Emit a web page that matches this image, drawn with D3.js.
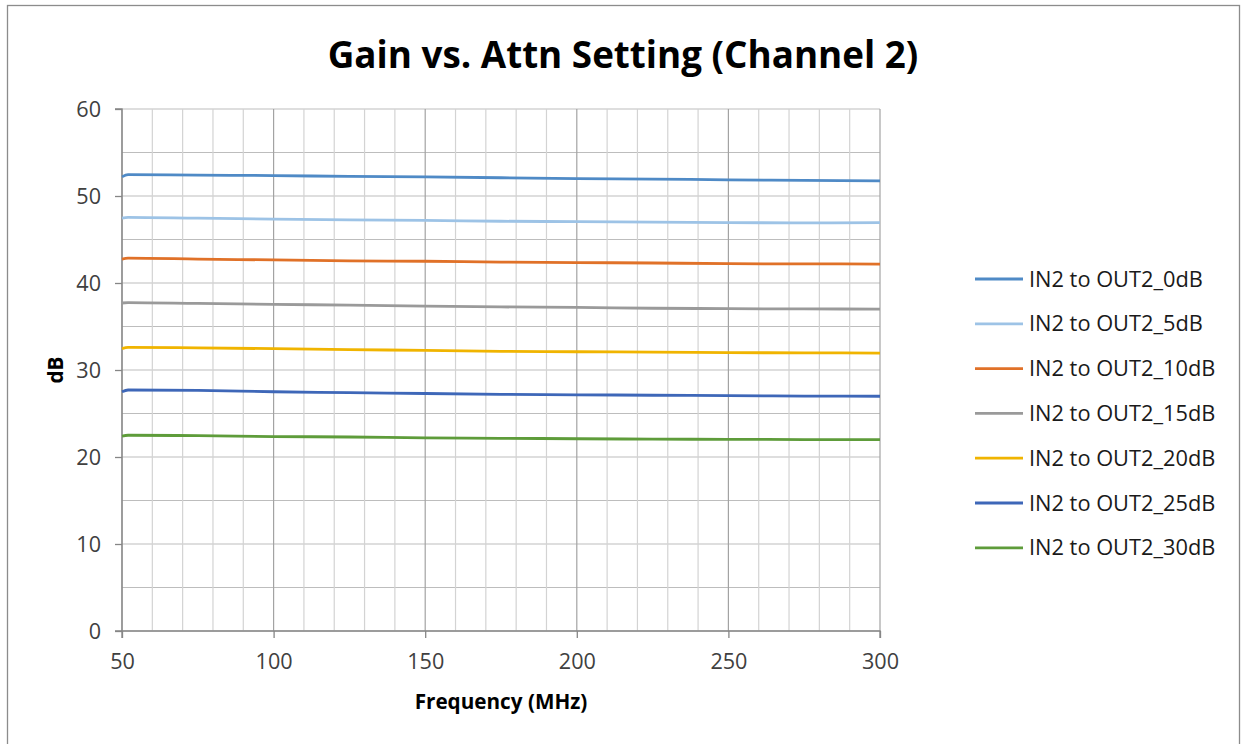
<!DOCTYPE html>
<html><head><meta charset="utf-8">
<script src="https://cdn.jsdelivr.net/npm/d3@7"></script>
<style>
html,body{margin:0;padding:0;background:#fff;}
svg{display:block;}
text{font-family:"Open Sans","Noto Sans",sans-serif;}
</style></head>
<body>
<svg id="chart" width="1246" height="744"></svg>
<script>
const title = "Gain vs. Attn Setting (Channel 2)";
const xTitle = "Frequency (MHz)";
const yTitle = "dB";
const freqs = [50, 52, 75, 100, 125, 150, 175, 200, 225, 250, 275, 300];
const seriesNames = ["IN2 to OUT2_0dB","IN2 to OUT2_5dB","IN2 to OUT2_10dB","IN2 to OUT2_15dB","IN2 to OUT2_20dB","IN2 to OUT2_25dB","IN2 to OUT2_30dB"];
const s0dB  = [52.2, 52.45, 52.4, 52.35, 52.25, 52.2, 52.1, 52.0, 51.95, 51.85, 51.8, 51.75];
const s5dB  = [47.45, 47.55, 47.45, 47.35, 47.25, 47.2, 47.1, 47.05, 47.0, 46.95, 46.9, 46.93];
const s10dB = [42.75, 42.85, 42.75, 42.65, 42.55, 42.5, 42.4, 42.35, 42.3, 42.22, 42.2, 42.18];
const s15dB = [37.7, 37.75, 37.65, 37.55, 37.45, 37.35, 37.25, 37.2, 37.1, 37.05, 37.02, 37.0];
const s20dB = [32.45, 32.6, 32.55, 32.45, 32.35, 32.25, 32.15, 32.1, 32.05, 32.0, 31.97, 31.95];
const s25dB = [27.5, 27.7, 27.65, 27.5, 27.4, 27.3, 27.2, 27.15, 27.1, 27.05, 27.0, 26.98];
const s30dB = [22.4, 22.5, 22.45, 22.35, 22.3, 22.2, 22.15, 22.1, 22.05, 22.03, 22.0, 21.99];
const allSeries = [s0dB, s5dB, s10dB, s15dB, s20dB, s25dB, s30dB];
const colors = ["#4f8ac6", "#9dc3e6", "#e07128", "#9a9a9a", "#f0b400", "#3e67b8", "#5e9c3a"];
const xTicks = [50, 100, 150, 200, 250, 300];
const yTicks = [0, 10, 20, 30, 40, 50, 60];
const xMinor = d3.range(50, 301, 10);
const yMinor = d3.range(0, 61, 5);

const svg = d3.select("#chart");
const m = {left: 122, right: 880, top: 109, bottom: 631};
const x = d3.scaleLinear().domain([50, 300]).range([m.left, m.right]);
const y = d3.scaleLinear().domain([0, 60]).range([m.bottom, m.top]);

// size a font so that a sample string reaches a target width
function fitSize(sample, weight, base, target) {
  const tmp = svg.append("text").style("font-size", base + "px").style("font-weight", weight).text(sample);
  const w = tmp.node().getComputedTextLength();
  tmp.remove();
  return base * target / w;
}

// outer frame
svg.append("rect").attr("x", 7.5).attr("y", 5.5).attr("width", 1232).attr("height", 760)
  .attr("fill", "none").attr("stroke", "#8c8c8c").attr("stroke-width", 1.3);

// gridlines
const g = svg.append("g");
g.selectAll(".hy").data(yMinor).join("line")
  .attr("x1", m.left).attr("x2", m.right).attr("y1", d => y(d)).attr("y2", d => y(d))
  .attr("stroke", "#bdbdbd").attr("stroke-width", 1.2);
g.selectAll(".vx").data(xMinor).join("line")
  .attr("y1", m.top).attr("y2", m.bottom).attr("x1", d => x(d)).attr("x2", d => x(d))
  .attr("stroke", d => (d % 50 === 0 ? "#a3a3a3" : "#d3d3d3")).attr("stroke-width", 1.2);

// axes
const tickFs = fitSize("100", "normal", 18, 37);
const yAxis = d3.axisLeft(y).tickValues(yTicks).tickSize(7).tickPadding(14);
const xAxis = d3.axisBottom(x).tickValues(xTicks).tickSize(7).tickPadding(16);
const ya = svg.append("g").attr("transform", `translate(${m.left},0)`).call(yAxis);
const xa = svg.append("g").attr("transform", `translate(0,${m.bottom})`).call(xAxis);
[ya, xa].forEach(a => {
  a.select(".domain").attr("stroke", "#868686").attr("stroke-width", 1.3);
  a.selectAll(".tick line").attr("stroke", "#868686").attr("stroke-width", 1.3);
  a.selectAll(".tick text").attr("fill", "#404040").style("font-size", tickFs.toFixed(1) + "px")
    .style("font-family", "'Open Sans','Noto Sans',sans-serif");
});
ya.select(".domain").attr("d", `M-7,${m.top}H0V${m.bottom}H-7`);
xa.select(".domain").attr("d", `M${m.left},7V0H${m.right}V7`);
ya.selectAll(".tick text").attr("dy", "0.34em");

// lines
const line = d3.line().x((d, i) => x(freqs[i])).y(d => y(d)).curve(d3.curveMonotoneX);
svg.append("g").selectAll("path").data(allSeries).join("path")
  .attr("d", d => line(d)).attr("fill", "none")
  .attr("stroke", (d, i) => colors[i]).attr("stroke-width", 2.8).attr("stroke-linejoin", "round");

// title
const titleFs = fitSize(title, "bold", 34, 591);
svg.append("text").attr("x", 623).attr("y", 68).attr("text-anchor", "middle")
  .style("font-size", titleFs.toFixed(1) + "px").style("font-weight", "bold").attr("fill", "#000").text(title);

// axis titles
const xtFs = fitSize(xTitle, "bold", 17, 173);
svg.append("text").attr("x", 501).attr("y", 709).attr("text-anchor", "middle")
  .style("font-size", xtFs.toFixed(1) + "px").style("font-weight", "bold").attr("fill", "#000").text(xTitle);
svg.append("text").attr("transform", `translate(63,370) rotate(-90)`).attr("text-anchor", "middle")
  .style("font-size", xtFs.toFixed(1) + "px").style("font-weight", "bold").attr("fill", "#000").text(yTitle);

// legend
const legFs = fitSize(seriesNames[6], "normal", 17, 186);
const leg = svg.append("g");
seriesNames.forEach((name, i) => {
  const ly = 279 + i * 44.8;
  leg.append("line").attr("x1", 975).attr("x2", 1023).attr("y1", ly).attr("y2", ly)
    .attr("stroke", colors[i]).attr("stroke-width", 2.8);
  leg.append("text").attr("x", 1029).attr("y", ly).attr("dy", "0.35em")
    .style("font-size", legFs.toFixed(1) + "px").attr("fill", "#1a1a1a").text(name);
});
</script>
</body></html>
